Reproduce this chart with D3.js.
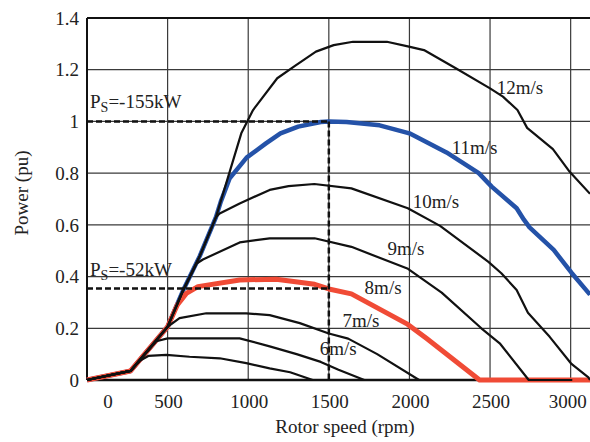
<!DOCTYPE html>
<html>
<head>
<meta charset="utf-8">
<script src="https://cdn.jsdelivr.net/npm/d3@7"></script>
<style>
  body { margin: 0; background: #fff; }
  text { font-family: "Liberation Serif", "Times New Roman", serif; fill: #222; }
</style>
</head>
<body>
<div id="chart"></div>
<script>
// power vs rotor speed, one curve per wind speed
const rise = [[0, 0], [270, 0.035], [500, 0.206]];

const v5 = [[0, 0], [270, 0.035], [330, 0.075], [380, 0.093], [492, 0.097], [636, 0.09], [823, 0.084], [988, 0.065], [1133, 0.045], [1260, 0.03], [1400, 0]];
const v6 = [[0, 0], [270, 0.035], [430, 0.15], [500, 0.161], [947, 0.161], [1133, 0.13], [1300, 0.1], [1450, 0.07], [1560, 0.04], [1720, 0]];
const v7 = rise.concat([[574, 0.239], [740, 0.258], [988, 0.258], [1133, 0.251], [1320, 0.22], [1500, 0.18], [1620, 0.16], [1800, 0.1], [2060, 0]]);
const v8 = rise.concat([[560, 0.29], [616, 0.335], [688, 0.361], [947, 0.387], [1174, 0.39], [1412, 0.37], [1500, 0.352], [1640, 0.333], [1990, 0.215], [2105, 0.161], [2435, 0], [3120, 0]]);
const v9 = rise.concat([[595, 0.345], [680, 0.45], [719, 0.466], [947, 0.532], [1133, 0.548], [1412, 0.548], [1640, 0.515], [1991, 0.43], [2200, 0.338], [2446, 0.2], [2560, 0.142], [2740, 0], [3010, 0]]);
const v10 = rise.concat([[595, 0.345], [700, 0.48], [800, 0.63], [823, 0.644], [947, 0.683], [1133, 0.735], [1250, 0.75], [1410, 0.758], [1640, 0.741], [1990, 0.664], [2190, 0.596], [2490, 0.457], [2570, 0.413], [2665, 0.348], [2735, 0.26], [2870, 0.167], [3005, 0.062], [3110, 0.01], [3120, 0]]);
const v11 = rise.concat([[595, 0.345], [700, 0.48], [800, 0.63], [830, 0.69], [885, 0.78], [990, 0.86], [1110, 0.915], [1200, 0.954], [1310, 0.98], [1450, 0.998], [1500, 1.0], [1610, 0.998], [1815, 0.985], [2000, 0.954], [2230, 0.88], [2430, 0.8], [2510, 0.748], [2665, 0.664], [2710, 0.62], [2745, 0.59], [2895, 0.503], [3005, 0.415], [3120, 0.33]]);
const v12 = rise.concat([[595, 0.345], [700, 0.48], [800, 0.63], [957, 0.954], [1030, 1.044], [1180, 1.167], [1290, 1.215], [1420, 1.27], [1530, 1.295], [1650, 1.308], [1860, 1.308], [1990, 1.29], [2090, 1.276], [2290, 1.205], [2500, 1.128], [2580, 1.096], [2670, 1.044], [2730, 0.975], [2890, 0.893], [2994, 0.805], [3120, 0.72]]);

const curveNames = ["5m/s", "6m/s", "7m/s", "8m/s", "9m/s", "10m/s", "11m/s", "12m/s"];
const curveData = [v5, v6, v7, v8, v9, v10, v11, v12];

const xTicks = [0, 500, 1000, 1500, 2000, 2500, 3000];
const yTicks = [0, 0.2, 0.4, 0.6, 0.8, 1, 1.2, 1.4];

// stator power operating points (pu) at 1500 rpm
const refSpeed = 1500;
const refPower = [1.0, 0.354];
const refText = ["=-155kW", "=-52kW"];

var width = 590, height = 442;
var margin = {top: 18, right: 0, bottom: 62, left: 87};

var svg = d3.select("#chart").append("svg")
  .attr("width", width)
  .attr("height", height);

var x = d3.scaleLinear().domain([0, 3120]).range([margin.left, width - margin.right]);
var y = d3.scaleLinear().domain([0, 1.4]).range([height - margin.bottom, margin.top]);

// grid
svg.append("g").selectAll("line")
  .data(xTicks.filter(d => d > 0))
  .enter().append("line")
  .attr("x1", d => x(d)).attr("x2", d => x(d))
  .attr("y1", y(0)).attr("y2", y(1.4))
  .attr("stroke", "#3a3a3a").attr("stroke-width", 1.2);

svg.append("g").selectAll("line")
  .data(yTicks.filter(d => d > 0 && d < 1.4))
  .enter().append("line")
  .attr("x1", x(0)).attr("x2", width)
  .attr("y1", d => y(d)).attr("y2", d => y(d))
  .attr("stroke", "#3a3a3a").attr("stroke-width", 1.2);

// frame
svg.append("line").attr("x1", x(0)).attr("x2", width).attr("y1", y(1.4)).attr("y2", y(1.4))
  .attr("stroke", "#111").attr("stroke-width", 2);
svg.append("line").attr("x1", x(0)).attr("x2", x(0)).attr("y1", y(0)).attr("y2", y(1.4))
  .attr("stroke", "#111").attr("stroke-width", 2);
svg.append("line").attr("x1", x(0)).attr("x2", width).attr("y1", y(0)).attr("y2", y(0))
  .attr("stroke", "#111").attr("stroke-width", 2.5);

// tick labels
svg.append("g").selectAll("text")
  .data(yTicks)
  .enter().append("text")
  .attr("x", 79)
  .attr("y", d => y(d))
  .attr("dy", "0.35em")
  .attr("text-anchor", "end")
  .style("font-size", "19px")
  .text(d => d3.format("~g")(d));

svg.append("g").selectAll("text")
  .data(xTicks)
  .enter().append("text")
  .attr("x", d => x(d))
  .attr("dx", d => d === 0 ? 21 : d === 3000 ? -3 : 1)
  .attr("y", 408)
  .attr("text-anchor", "middle")
  .style("font-size", "19px")
  .text(d => d);

svg.append("text")
  .attr("x", 345).attr("y", 433)
  .attr("text-anchor", "middle")
  .style("font-size", "19px")
  .text("Rotor speed (rpm)");

svg.append("text")
  .attr("transform", "translate(28,193) rotate(-90)")
  .attr("text-anchor", "middle")
  .style("font-size", "19px")
  .text("Power (pu)");

// curves
var line = d3.line().x(d => x(d[0])).y(d => y(d[1]));
var colorOf = name => name === "11m/s" ? "#2452a8" : name === "8m/s" ? "#f04b36" : "#111";
var widthOf = name => name === "11m/s" ? 4.5 : name === "8m/s" ? 5 : 2.2;

// coloured curves go underneath the black ones
var order = [6, 3, 0, 1, 2, 4, 5, 7];
svg.append("g").selectAll("path")
  .data(order.map(i => ({name: curveNames[i], pts: curveData[i]})))
  .enter().append("path")
  .attr("d", d => line(d.pts))
  .attr("fill", "none")
  .attr("stroke", d => colorOf(d.name))
  .attr("stroke-width", d => widthOf(d.name))
  .attr("stroke-linejoin", "round");

// dashed reference lines
refPower.forEach(p => {
  svg.append("line")
    .attr("x1", x(0)).attr("x2", x(refSpeed))
    .attr("y1", y(p)).attr("y2", y(p))
    .attr("stroke", "#111").attr("stroke-width", 2.5)
    .attr("stroke-dasharray", "6,3");
});
svg.append("line")
  .attr("x1", x(refSpeed)).attr("x2", x(refSpeed))
  .attr("y1", y(d3.max(refPower))).attr("y2", y(0))
  .attr("stroke", "#111").attr("stroke-width", 2.5)
  .attr("stroke-dasharray", "6,3");

// labels
var labelPos = {
  "12m/s": [2541, 1.106], "11m/s": [2262, 0.874], "10m/s": [2020, 0.665],
  "9m/s": [1864, 0.483], "8m/s": [1722, 0.333], "7m/s": [1585, 0.205], "6m/s": [1443, 0.097]
};
svg.append("g").selectAll("text")
  .data(curveNames.filter(n => labelPos[n]))
  .enter().append("text")
  .attr("x", d => x(labelPos[d][0]))
  .attr("y", d => y(labelPos[d][1]))
  .style("font-size", "19px")
  .text(d => d);

var refLabelPos = [1.052, 0.402];
refText.forEach((t, i) => {
  var txt = svg.append("text")
    .attr("x", x(0) + 3)
    .attr("y", y(refLabelPos[i]))
    .style("font-size", "19px");
  txt.append("tspan").text("P");
  txt.append("tspan").attr("dy", 4).style("font-size", "14px").text("S");
  txt.append("tspan").attr("dy", -4).text(t);
});
</script>
</body>
</html>
